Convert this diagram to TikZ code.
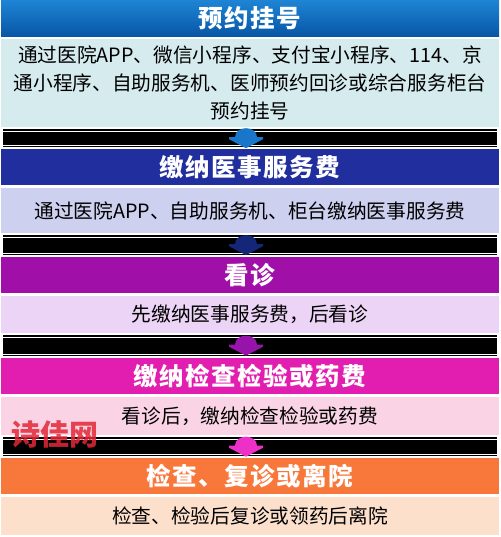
\documentclass[tikz,border=0pt]{standalone}
\usepackage{fontspec}
\newfontfamily\cjk{Noto Sans CJK SC}
\newfontfamily\cjkhead[LetterSpace=6]{Noto Sans CJK SC}
\usetikzlibrary{calc}
\definecolor{hA1}{RGB}{30,132,212}
\definecolor{hA2}{RGB}{8,86,166}
\definecolor{bA}{RGB}{214,235,238}
\definecolor{hB}{RGB}{32,46,158}
\definecolor{bB}{RGB}{205,208,238}
\definecolor{hC}{RGB}{160,16,168}
\definecolor{bC}{RGB}{236,212,246}
\definecolor{hD}{RGB}{226,30,176}
\definecolor{bD}{RGB}{250,212,228}
\definecolor{hE}{RGB}{248,120,60}
\definecolor{bE}{RGB}{253,224,204}
\definecolor{aA}{RGB}{26,118,200}
\definecolor{aB}{RGB}{20,38,120}
\definecolor{aC}{RGB}{150,20,170}
\definecolor{aD}{RGB}{236,48,200}
\definecolor{wmred}{RGB}{226,40,56}
\begin{document}
\begin{tikzpicture}[x=1pt,y=-1pt,
  hdr/.style={minimum width=498pt, minimum height=36pt, inner sep=0pt, text=white,
    font=\cjkhead\bfseries\fontsize{24.5}{28}\selectfont, anchor=north},
  bodybox/.style={minimum width=498pt, inner sep=0pt, text=black, align=center,
    font=\cjk\fontsize{19.7}{28}\selectfont, anchor=north},
  band/.style={fill=black},
  bandline/.style={draw=white, line width=0.8pt},
  wm/.style={font=\cjk\bfseries\fontsize{29}{32}\selectfont, text=wmred, text opacity=0.85, inner sep=0pt},
  pics/blobarrow/.style={code={
    \fill[#1] (-11,-1) .. controls (-11,-13) and (11,-13) .. (11,-1) -- (17,-1) -- (17,1)
      -- (0,10) -- (-17,1) -- (-17,-1) -- cycle;}}
]
\useasboundingbox (0,0) rectangle (500,537);
\fill[white] (0,0) rectangle (500,537);

\node[hdr, top color=hA1, bottom color=hA2] (h1) at (250,0) {预约挂号};
\node[bodybox, fill=bA, minimum height=88pt] (b1) at (250,39)
  {通过医院APP、微信小程序、支付宝小程序、114、京\\通小程序、自助服务机、医师预约回诊或综合服务柜台\\预约挂号};
\node[hdr, fill=hB] (h2) at (250,149) {缴纳医事服务费};
\node[bodybox, fill=bB, minimum height=45pt] (b2) at (250,188) {通过医院APP、自助服务机、柜台缴纳医事服务费};
\node[hdr, fill=hC] (h3) at (250,257) {看诊};
\node[bodybox, fill=bC, minimum height=37pt] (b3) at (250,296) {先缴纳医事服务费，后看诊};
\node[hdr, fill=hD] (h4) at (250,358) {缴纳检查检验或药费};
\node[bodybox, fill=bD, minimum height=38pt] (b4) at (250,397) {看诊后，缴纳检查检验或药费};
\node[hdr, fill=hE] (h5) at (250,458) {检查、复诊或离院};
\node[bodybox, fill=bE, minimum height=38pt] (b5) at (250,497) {检查、检验后复诊或领药后离院};

\foreach \u/\l/\c in {b1/h2/aA, b2/h3/aB, b3/h4/aC, b4/h5/aD}{
  \fill[band] ($(\u.south west)+(2,2)$) rectangle ($(\l.north east)+(-2,-2)$);
  \draw[bandline] ($(\u.south west)+(2,3.6)$) -- ($(\u.south east)+(-2,3.6)$);
  \draw[bandline] ($(\l.north west)+(2,-3.6)$) -- ($(\l.north east)+(-2,-3.6)$);
  \pic at ($(\u.south)!0.5!(\l.north)+(-4,0)$) {blobarrow=\c};
}

\node[wm] (wmk) at (55,434) {诗佳网};
\end{tikzpicture}
\end{document}
